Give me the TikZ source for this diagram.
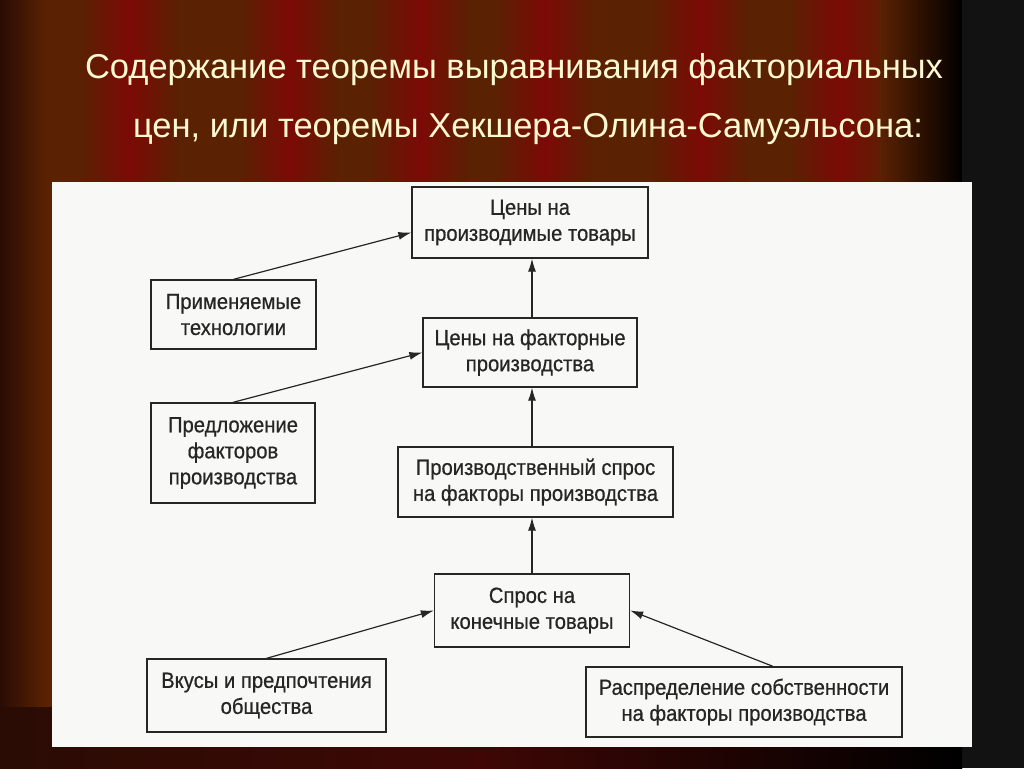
\documentclass[tikz,border=0pt]{standalone}
\usepackage{fontspec}
\setmainfont{Liberation Sans}
\newfontfamily\titlefont{Liberation Sans}
\newfontfamily\boxfont[FakeStretch=0.92,FakeBold=0.6]{Liberation Sans}
\usetikzlibrary{arrows.meta}
\definecolor{curtainbrown}{HTML}{5A2103}
\definecolor{curtainred}{HTML}{7C0A06}
\definecolor{hemdark}{HTML}{2A0C04}
\definecolor{hemred}{HTML}{3E0705}
\definecolor{titleyellow}{HTML}{FFF9D2}
\definecolor{scanpaper}{HTML}{F8F8F7}
\definecolor{scanink}{HTML}{262626}
\begin{document}
\begin{tikzpicture}[x=1pt,y=-1pt,
  factorbox/.style={draw=scanink,line width=1.3pt,fill=scanpaper,text=scanink,
    align=center,inner sep=0pt,font=\boxfont\fontsize{22}{26}\selectfont},
  factorarrow/.style={draw=scanink,line width=1.2pt,-{Latex[length=13pt,width=8pt]}},
  titleline/.style={anchor=base,text=titleyellow,inner sep=0pt,
    font=\titlefont\fontsize{34.5}{40}\selectfont}]
\useasboundingbox (0,0) rectangle (1024,768);
% Drawing curtain
\fill[curtainbrown] (0,0) rectangle (1024,768);
\shade[left color=hemdark,right color=curtainbrown] (0,0) rectangle (45,768);
\foreach \c in {130,290,420,545,700,840}
  \shade[left color=curtainbrown,right color=curtainbrown,middle color=curtainred]
    (\c-50,0) rectangle (\c+50,768);
\shade[left color=curtainbrown,right color=black] (880,0) rectangle (962,768);
\fill[black!93] (962,0) rectangle (1024,768);
\shade[left color=hemdark,right color=black,middle color=hemred] (0,707) rectangle (962,768);
% Title
\node[titleline] (title1) at (514,78) {Содержание теоремы выравнивания факториальных};
\node[titleline] (title2) at (528,137) {цен, или теоремы Хекшера-Олина-Самуэльсона:};
% Scanned sheet
\fill[scanpaper] (52,182) rectangle (972,747);
% Done with sheet; drawing boxes
\node[factorbox,minimum width=236pt,minimum height=71pt] (goodsprice) at (530,222.5)
  {Цены на\\производимые товары};
\node[factorbox,minimum width=165pt,minimum height=69pt] (techn) at (233.5,314.5)
  {Применяемые\\технологии};
\node[factorbox,minimum width=214pt,minimum height=69pt] (factorprice) at (530,352.5)
  {Цены на факторные\\производства};
\node[factorbox,minimum width=164pt,minimum height=100pt] (supply) at (233,453)
  {Предложение\\факторов\\производства};
\node[factorbox,minimum width=275pt,minimum height=70pt] (derived) at (535.5,482)
  {Производственный спрос\\на факторы производства};
\node[factorbox,minimum width=195pt,minimum height=73pt] (demand) at (532,610.5)
  {Спрос на\\конечные товары};
\node[factorbox,minimum width=239pt,minimum height=73pt] (tastes) at (266.5,695.5)
  {Вкусы и предпочтения\\общества};
\node[factorbox,minimum width=316pt,minimum height=70pt] (property) at (744,702)
  {Распределение собственности\\на факторы производства};
% Done with boxes; drawing arrows
\draw[factorarrow] (techn.north) -- ([yshift=-10pt]goodsprice.west);
\draw[factorarrow] (supply.north) -- (factorprice.west);
\draw[factorarrow] (tastes.north) -- (demand.west);
\draw[factorarrow] ([xshift=29pt]property.north) -- (demand.east);
\draw[factorarrow] (demand.north) -- (demand.north |- derived.south);
\draw[factorarrow] (demand.north |- derived.north) -- (demand.north |- factorprice.south);
\draw[factorarrow] (demand.north |- factorprice.north) -- (demand.north |- goodsprice.south);
% Done with arrows
\end{tikzpicture}
\end{document}
